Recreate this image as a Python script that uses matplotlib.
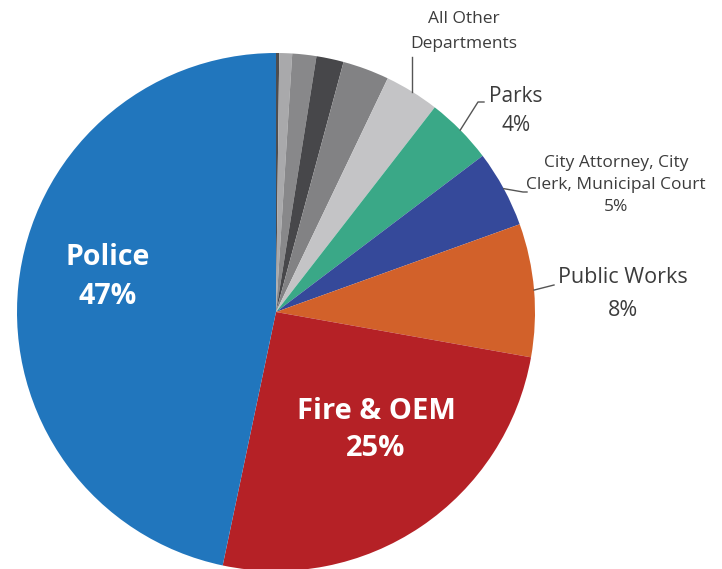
import numpy as np
import matplotlib
matplotlib.use('Agg')
import matplotlib.pyplot as plt

plt.rcParams['font.family'] = ['Open Sans', 'DejaVu Sans']

# slices go clockwise from 12 o'clock
departments = ['Other 1', 'Other 2', 'Other 3', 'Other 4', 'Other 5', 'Other 6',
               'Parks', 'City Attorney, City Clerk, Municipal Court',
               'Public Works', 'Fire & OEM', 'Police']
shares = [0.2, 0.8, 1.5, 1.7, 2.9, 3.4, 4.2, 4.8, 8.3, 25.5, 46.7]
colors = ['#4d4d4f', '#a9a9ab', '#88888a', '#47474a', '#828284', '#c4c4c6',
          '#3aa887', '#35499a', '#d2612a', '#b52126', '#2176bd']
shown_pct = {'Parks': '4%', 'City Attorney, City Clerk, Municipal Court': '5%',
             'Public Works': '8%', 'Fire & OEM': '25%', 'Police': '47%'}

W, H = 722, 569
fig = plt.figure(figsize=(W / 100, H / 100), dpi=100)
ax = fig.add_axes([0, 0, 1, 1])

cx, cy, R = 276, H - 312, 259
wedges, _ = ax.pie(shares, colors=colors, startangle=90, counterclock=False,
                   center=(cx, cy), radius=R, frame=True,
                   wedgeprops=dict(linewidth=0))
ax.set_xlim(0, W)
ax.set_ylim(0, H)
ax.set_aspect('equal')
ax.axis('off')


def edge_point(w):
    a = np.deg2rad((w.theta1 + w.theta2) / 2)
    return cx + R * np.cos(a), cy + R * np.sin(a)


txt = '#3c3c3c'
line_kw = dict(color='#555555', lw=1)

# inside labels
ax.text(108, H - 277, 'Police\n' + shown_pct['Police'], color='white',
        fontsize=20.5, fontweight='bold', ha='center', va='center', linespacing=1.45)
ax.text(376, H - 430, 'Fire & OEM\n' + shown_pct['Fire & OEM'], color='white',
        fontsize=21, fontweight='bold', ha='center', va='center', linespacing=1.4)

# Public Works
x0, y0 = edge_point(wedges[8])
ax.plot([x0, 554], [y0, H - 285], **line_kw)
ax.text(623, H - 294, 'Public Works\n' + shown_pct['Public Works'], color=txt,
        fontsize=15.5, ha='center', va='center', linespacing=1.7)

# City Attorney
x0, y0 = edge_point(wedges[7])
ax.plot([x0, 523, 527], [y0, H - 192, H - 192], **line_kw)
ax.text(616, H - 185, 'City Attorney, City\nClerk, Municipal Court\n'
        + shown_pct['City Attorney, City Clerk, Municipal Court'],
        color=txt, fontsize=12.5, ha='center', va='center', linespacing=1.5)

# Parks
x0, y0 = edge_point(wedges[6])
ax.plot([x0, 478, 484], [y0, H - 102, H - 102], **line_kw)
ax.text(516, H - 111, 'Parks\n' + shown_pct['Parks'], color=txt,
        fontsize=15, ha='center', va='center', linespacing=1.45)

# All other departments
x0, y0 = edge_point(wedges[5])
ax.plot([x0, x0], [y0, H - 57], **line_kw)
ax.text(464, H - 31, 'All Other\nDepartments', color=txt,
        fontsize=12.5, ha='center', va='center', linespacing=1.75)

fig.savefig('out.png', dpi=100)
